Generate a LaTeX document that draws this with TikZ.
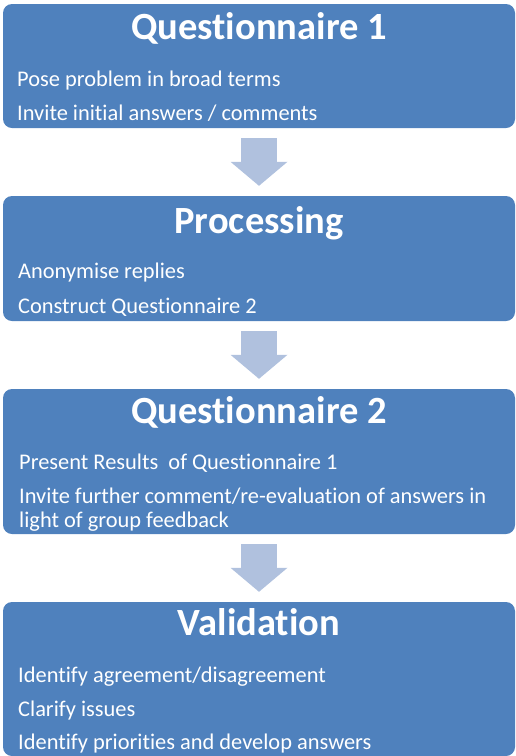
\documentclass[tikz,border=0pt]{standalone}
\usepackage{fontspec}
\setmainfont{Carlito}[Ligatures={NoCommon,NoContextual}]
\usepackage{xcolor}
\usepackage{tikz}
\usetikzlibrary{arrows.meta,positioning,calc}
\definecolor{boxblue}{RGB}{79,129,189}
\definecolor{arrowblue}{RGB}{176,193,222}

\begin{document}
\begin{tikzpicture}[x=1pt, y=-1pt,
  stage/.style={fill=boxblue, rounded corners=9pt, minimum width=512pt, inner sep=0pt},
  title/.style={text=white, font=\fontsize{38.5}{42}\selectfont\bfseries, anchor=base, inner sep=0pt},
  item/.style={text=white, font=\fontsize{22.4}{24}\selectfont, anchor=base west, inner sep=0pt},
  flow/.style={draw=arrowblue, line width=36pt, -{Triangle[length=24pt, width=57pt, line width=0pt]}}]
  \useasboundingbox (0,0) rectangle (515,756);
  \node[stage, minimum height=124pt](q1) at (259,66){};
  \node[stage, minimum height=125pt](pr) at (259,258.5){};
  \node[stage, minimum height=145pt](q2) at (259,461.5){};
  \node[stage, minimum height=154pt](va) at (259,679){};
  \node[title](q1t) at (259,39){Questionnaire 1};
  \node[item](q1a) at (17,86){Pose problem in broad terms};
  \node[item](q1b) at (17,120){Invite initial answers / comments};
  \node[title](prt) at (259,233){Processing};
  \node[item](pra) at (18,278){Anonymise replies};
  \node[item](prb) at (18,313){Construct Questionnaire 2};
  \node[title](q2t) at (259,423){Questionnaire 2};
  \node[item](q2a) at (19,469){Present Results\ \ of Questionnaire 1};
  \node[item](q2b) at (19,503){Invite further comment/re-evaluation of answers in};
  \node[item](q2c) at (19,527){light of group feedback};
  \node[title](vat) at (259,635){Validation};
  \node[item](vaa) at (18,682){Identify agreement/disagreement};
  \node[item](vab) at (18,716){Clarify issues};
  \node[item](vac) at (18,749){Identify priorities and develop answers};
  \draw[flow]([yshift=-10pt]q1.south)--([yshift=10pt]pr.north);
  \draw[flow]([yshift=-10pt]pr.south)--([yshift=10pt]q2.north);
  \draw[flow]([yshift=-10pt]q2.south)--([yshift=10pt]va.north);
\end{tikzpicture}
\end{document}
